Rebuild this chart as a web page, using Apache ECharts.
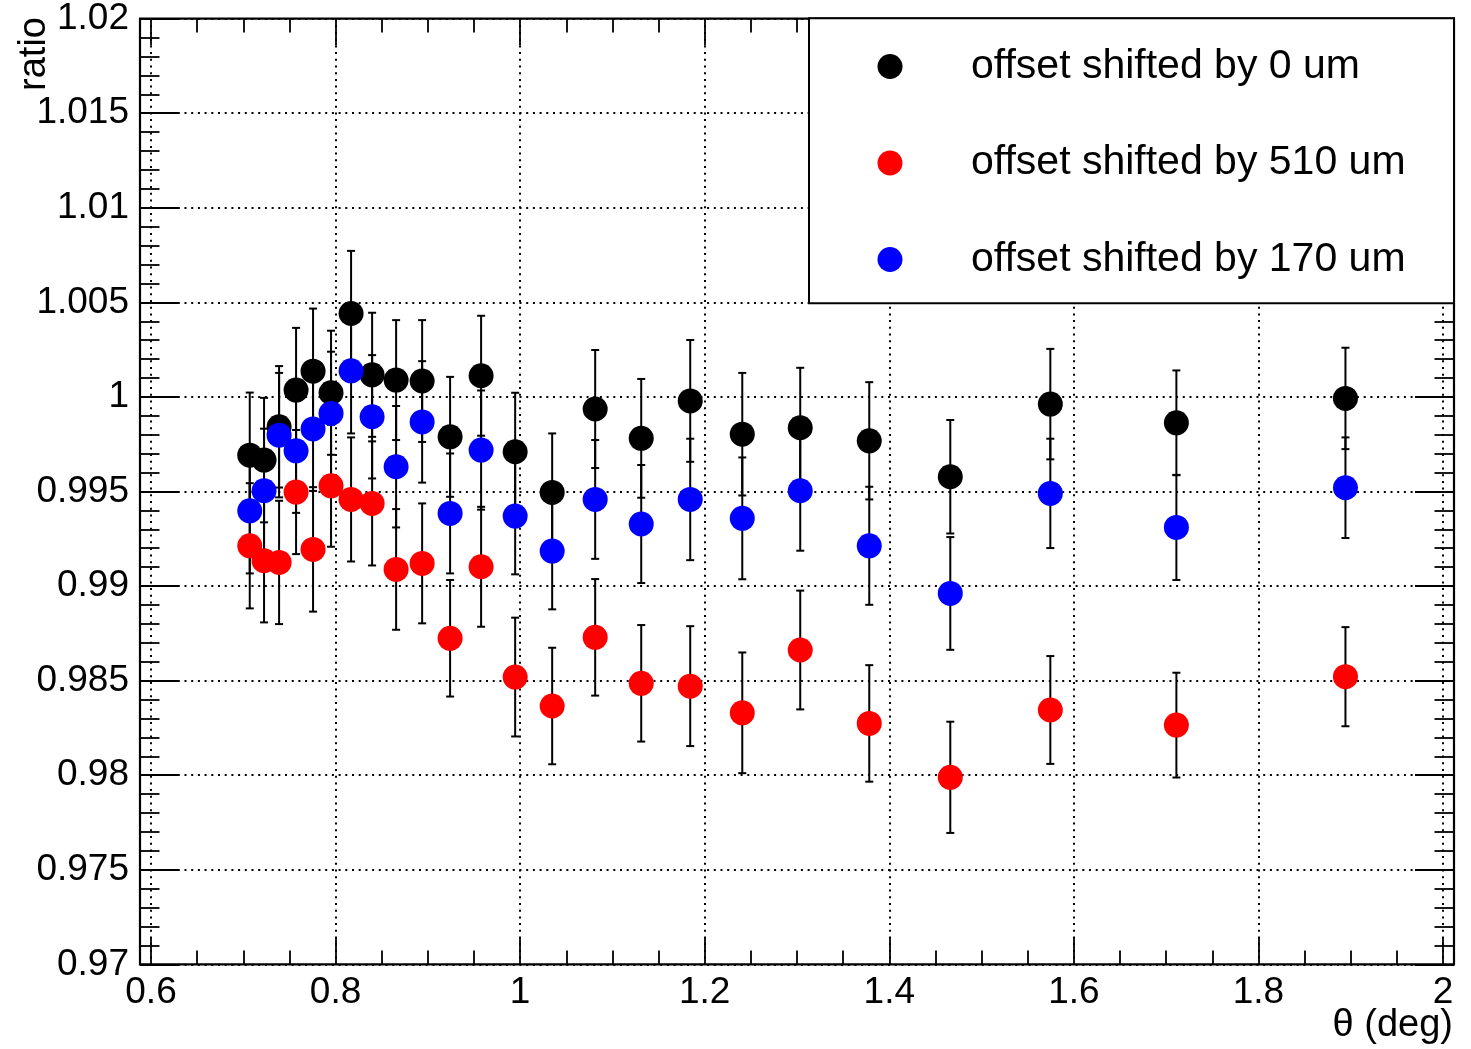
<!DOCTYPE html>
<html>
<head>
<meta charset="utf-8">
<script src="https://cdn.jsdelivr.net/npm/echarts@6/dist/echarts.min.js"></script>
<style>
html,body{margin:0;padding:0;background:#fff;}
#chart{width:1471px;height:1049px;}
</style>
</head>
<body>
<div id="chart"></div>
<script>
// ---- data ----
const theta = [0.707, 0.7225, 0.7388, 0.7572, 0.7756, 0.7951, 0.8168, 0.8396, 0.8656, 0.8938, 0.9241, 0.9577,
               0.9946, 1.0347, 1.0813, 1.1312, 1.1843, 1.2407, 1.3035, 1.3783, 1.4661, 1.5745, 1.7111, 1.8943];

const ratio0   = [0.99692, 0.99666, 0.99842, 1.00036, 1.00136, 1.00022, 1.00441, 1.00117, 1.00089, 1.00084, 0.99789, 1.00112,
                  0.99710, 0.99495, 0.99936, 0.99781, 0.99979, 0.99803, 0.99837, 0.99768, 0.99578, 0.99962, 0.99863, 0.99992];
const err0     = [0.00331, 0.00329, 0.00321, 0.00329, 0.00331, 0.00328, 0.00331, 0.00328, 0.00317, 0.00322, 0.00317, 0.00317,
                  0.00312, 0.00312, 0.00312, 0.00314, 0.00322, 0.00324, 0.00317, 0.00310, 0.00300, 0.00292, 0.00277, 0.00268];

const ratio510 = [0.99213, 0.99134, 0.99125, 0.99497, 0.99194, 0.99530, 0.99458, 0.99437, 0.99088, 0.99120, 0.98724, 0.99102,
                  0.98519, 0.98366, 0.98729, 0.98486, 0.98471, 0.98330, 0.98662, 0.98274, 0.97989, 0.98345, 0.98265, 0.98521];
const err510   = [0.00331, 0.00326, 0.00326, 0.00328, 0.00329, 0.00322, 0.00328, 0.00328, 0.00319, 0.00317, 0.00308, 0.00317,
                  0.00314, 0.00308, 0.00308, 0.00308, 0.00317, 0.00319, 0.00314, 0.00308, 0.00294, 0.00285, 0.00277, 0.00262];

const ratio170 = [0.99398, 0.99504, 0.99798, 0.99715, 0.99831, 0.99913, 1.00138, 0.99895, 0.99631, 0.99868, 0.99384, 0.99719,
                  0.99370, 0.99185, 0.99458, 0.99328, 0.99458, 0.99358, 0.99504, 0.99213, 0.98961, 0.99490, 0.99310, 0.99520];
const err170   = [0.00331, 0.00328, 0.00329, 0.00328, 0.00328, 0.00326, 0.00331, 0.00326, 0.00321, 0.00321, 0.00317, 0.00315,
                  0.00308, 0.00308, 0.00314, 0.00312, 0.00321, 0.00322, 0.00317, 0.00312, 0.00298, 0.00289, 0.00278, 0.00266];

const seriesNames = ['offset shifted by 0 um', 'offset shifted by 510 um', 'offset shifted by 170 um'];
const seriesColors = ['#000000', '#ff0000', '#0000ff'];
const xTitle = 'θ (deg)';
const yTitle = 'ratio';

// ---- chart ----
const FONT = 'Liberation Sans, Arial, Helvetica, sans-serif';
const chart = echarts.init(document.getElementById('chart'), null, {renderer: 'canvas'});

function pts(ys, es) { return theta.map((x, i) => [x, ys[i], es[i]]); }

function errRender(params, api) {
  const x = api.value(0), y = api.value(1), e = api.value(2);
  const top = api.coord([x, y + e]);
  const bot = api.coord([x, y - e]);
  const hw = 4;
  const st = {stroke: '#000', lineWidth: 2, fill: null};
  return {
    type: 'group',
    children: [
      {type: 'line', shape: {x1: top[0], y1: top[1], x2: bot[0], y2: bot[1]}, style: st},
      {type: 'line', shape: {x1: top[0] - hw, y1: top[1], x2: top[0] + hw, y2: top[1]}, style: st},
      {type: 'line', shape: {x1: bot[0] - hw, y1: bot[1], x2: bot[0] + hw, y2: bot[1]}, style: st}
    ]
  };
}

const dataSets = [[ratio0, err0], [ratio510, err510], [ratio170, err170]];
const series = [];
dataSets.forEach((d, i) => {
  series.push({
    type: 'custom', name: seriesNames[i] + ' err', renderItem: errRender,
    data: pts(d[0], d[1]), encode: {x: 0, y: 1}, xAxisIndex: 0, yAxisIndex: 0,
    silent: true, clip: false, z: 2
  });
  series.push({
    type: 'scatter', name: seriesNames[i], data: pts(d[0], d[1]), xAxisIndex: 0, yAxisIndex: 0,
    symbol: 'circle', symbolSize: 25, itemStyle: {color: seriesColors[i], opacity: 1},
    encode: {x: 0, y: 1}, z: 2
  });
});

const gridPos = {left: 151, right: 28, top: 18.6, bottom: 84.6};
const framePos = {left: 140, right: 17, top: 18.6, bottom: 84.6};

const dotted = {color: '#000', width: 2, type: [2, 4.7]};

const xCommon = {
  type: 'value', min: 0.6, max: 2.0, interval: 0.2, gridIndex: 0,
  axisLine: {show: false},
  axisTick: {show: true, inside: true, length: 27, lineStyle: {color: '#000', width: 1.8}},
  minorTick: {show: true, splitNumber: 4, length: 14, lineStyle: {color: '#000', width: 1.8}},
  minorSplitLine: {show: false}
};
const yCommon = {
  type: 'value', min: 0.97, max: 1.02, interval: 0.005, gridIndex: 0, offset: 11,
  axisLine: {show: false},
  axisTick: {show: true, inside: true, length: 39, lineStyle: {color: '#000', width: 1.8}},
  minorTick: {show: true, splitNumber: 5, length: 19.5, lineStyle: {color: '#000', width: 1.8}},
  minorSplitLine: {show: false}
};

const option = {
  backgroundColor: '#ffffff',
  animation: false,
  grid: [
    Object.assign({containLabel: false, show: false}, gridPos),
    Object.assign({containLabel: false, show: true, borderColor: '#000', borderWidth: 2.2, backgroundColor: 'transparent', z: 1}, framePos)
  ],
  xAxis: [
    Object.assign({}, xCommon, {
      position: 'bottom',
      axisLabel: {show: true, color: '#000', fontSize: 37, fontFamily: FONT, margin: 10, showMinLabel: true, showMaxLabel: true},
      splitLine: {show: true, lineStyle: dotted}
    }),
    Object.assign({}, xCommon, {
      position: 'top',
      axisLabel: {show: false},
      splitLine: {show: false}
    }),
    {type: 'value', gridIndex: 1, show: false, min: 0, max: 1}
  ],
  yAxis: [
    Object.assign({}, yCommon, {
      position: 'left',
      axisLabel: {show: true, color: '#000', fontSize: 37, fontFamily: FONT, margin: 11, padding: [6, 0, 0, 0], showMinLabel: true, showMaxLabel: true},
      splitLine: {show: true, lineStyle: dotted}
    }),
    Object.assign({}, yCommon, {
      position: 'right',
      axisLabel: {show: false},
      splitLine: {show: false}
    }),
    {type: 'value', gridIndex: 1, show: false, min: 0, max: 1}
  ],
  legend: {
    show: true,
    data: seriesNames,
    orient: 'vertical',
    left: 877.5, top: 46,
    padding: 0,
    itemWidth: 25, itemHeight: 25, itemGap: 55.5,
    icon: 'circle',
    selectedMode: false,
    z: 10,
    textStyle: {color: '#000', fontSize: 41, lineHeight: 40, fontFamily: FONT, padding: [0, 0, 0, 63.5]}
  },
  graphic: [
    {type: 'rect', z: 5, shape: {x: 809, y: 18.3, width: 645, height: 285},
     style: {fill: '#fff', stroke: '#000', lineWidth: 2}},
    {type: 'text', z: 5, x: 35, y: 17, rotation: Math.PI / 2,
     style: {text: yTitle, font: '38px ' + FONT, fill: '#000', textAlign: 'right', align: 'right', textVerticalAlign: 'middle', verticalAlign: 'middle'}},
    {type: 'text', z: 5, x: 1453, y: 1026,
     style: {text: xTitle, font: '38px ' + FONT, fill: '#000', textAlign: 'right', align: 'right', textVerticalAlign: 'middle', verticalAlign: 'middle'}}
  ],
  series: series
};
chart.setOption(option);
</script>
</body>
</html>
